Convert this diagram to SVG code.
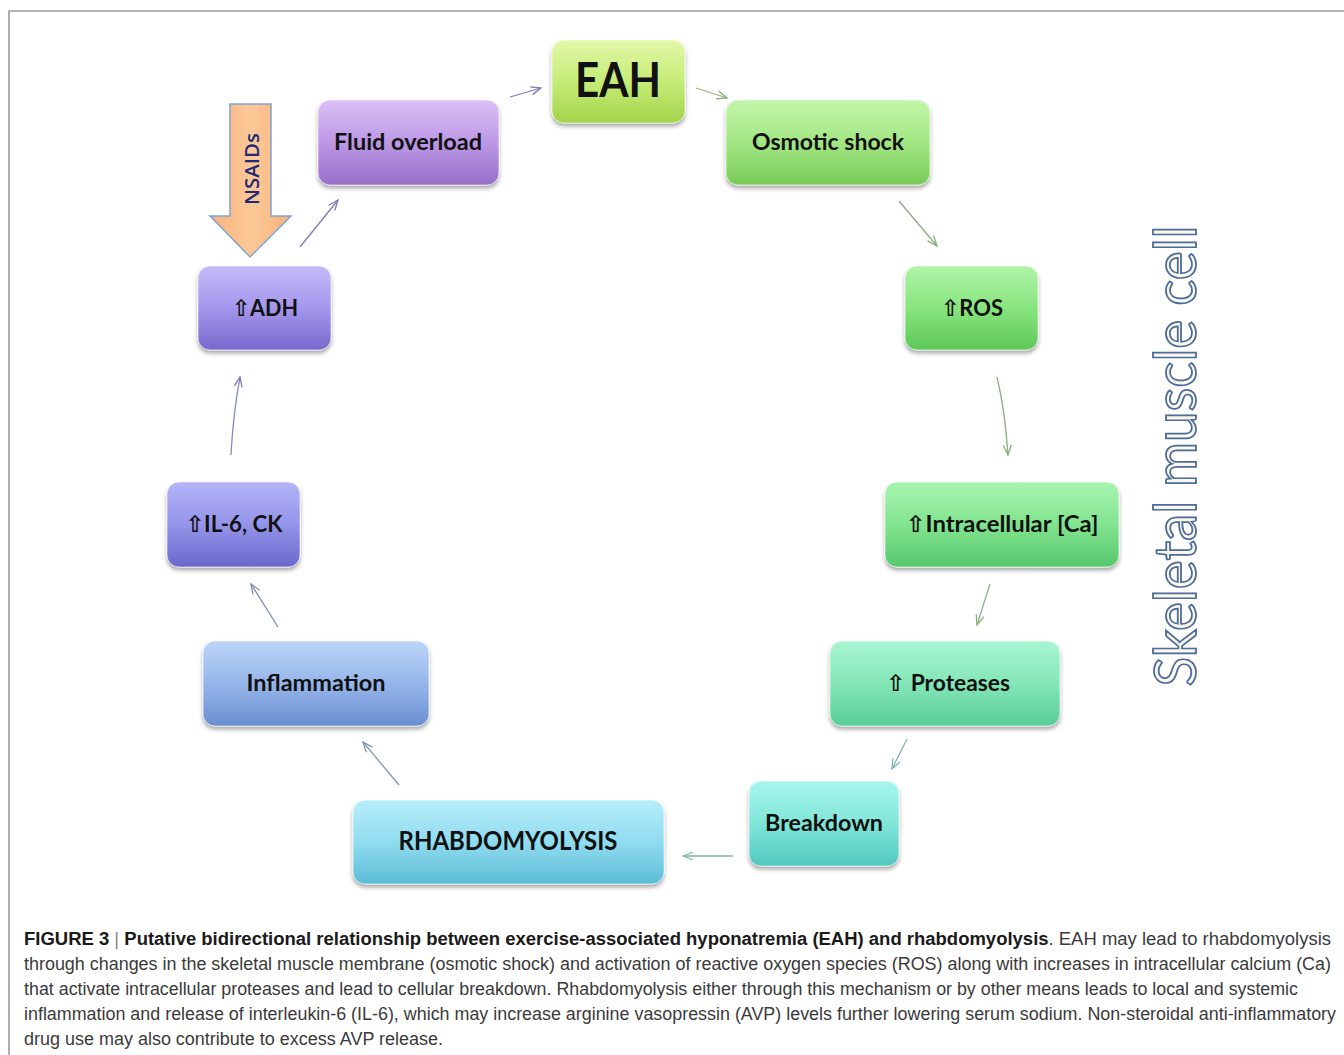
<svg xmlns="http://www.w3.org/2000/svg" width="1344" height="1055" viewBox="0 0 1344 1055">
<style>
.lbl{font-family:Lato,"DejaVu Sans",sans-serif;font-weight:bold;fill:#111;text-anchor:middle;font-size:23px}
.box{stroke:#ffffff;stroke-opacity:0.6;stroke-width:1;filter:url(#sh)}
.con{fill:none;stroke-width:1.3}
.cap{font-family:"Liberation Sans",Arial,sans-serif;font-size:17.5px;fill:#3a3a3a}
.capb{font-weight:bold;fill:#1a1a1a}
</style>
<defs>
<filter id="sh" x="-10%" y="-10%" width="120%" height="130%">
<feDropShadow dx="0" dy="3" stdDeviation="2.2" flood-color="#000" flood-opacity="0.35"/>
</filter>
<linearGradient id="gEAH" x1="0" y1="0" x2="0" y2="1"><stop offset="0" stop-color="#e2f8a8"/><stop offset="0.5" stop-color="#c6ec78"/><stop offset="1" stop-color="#a2d44a"/></linearGradient>
<linearGradient id="gFluid" x1="0" y1="0" x2="0" y2="1"><stop offset="0" stop-color="#dcc0f6"/><stop offset="0.5" stop-color="#bc98e6"/><stop offset="1" stop-color="#9670c8"/></linearGradient>
<linearGradient id="gOsm" x1="0" y1="0" x2="0" y2="1"><stop offset="0" stop-color="#c4f6aa"/><stop offset="0.5" stop-color="#a2e684"/><stop offset="1" stop-color="#78cc58"/></linearGradient>
<linearGradient id="gROS" x1="0" y1="0" x2="0" y2="1"><stop offset="0" stop-color="#b0f4a8"/><stop offset="0.5" stop-color="#88e47e"/><stop offset="1" stop-color="#5cc858"/></linearGradient>
<linearGradient id="gADH" x1="0" y1="0" x2="0" y2="1"><stop offset="0" stop-color="#c4baf8"/><stop offset="0.5" stop-color="#a496ec"/><stop offset="1" stop-color="#7a68cc"/></linearGradient>
<linearGradient id="gCa" x1="0" y1="0" x2="0" y2="1"><stop offset="0" stop-color="#a8f4b0"/><stop offset="0.5" stop-color="#82e48e"/><stop offset="1" stop-color="#56c86c"/></linearGradient>
<linearGradient id="gIL" x1="0" y1="0" x2="0" y2="1"><stop offset="0" stop-color="#b4b4f8"/><stop offset="0.5" stop-color="#9494ea"/><stop offset="1" stop-color="#6a68cc"/></linearGradient>
<linearGradient id="gProt" x1="0" y1="0" x2="0" y2="1"><stop offset="0" stop-color="#a8f6d2"/><stop offset="0.5" stop-color="#84e6b6"/><stop offset="1" stop-color="#58cc98"/></linearGradient>
<linearGradient id="gInfl" x1="0" y1="0" x2="0" y2="1"><stop offset="0" stop-color="#bcd4f8"/><stop offset="0.5" stop-color="#96b6ea"/><stop offset="1" stop-color="#6a8ed0"/></linearGradient>
<linearGradient id="gBrk" x1="0" y1="0" x2="0" y2="1"><stop offset="0" stop-color="#a8f6ec"/><stop offset="0.5" stop-color="#80e6d8"/><stop offset="1" stop-color="#50c8bc"/></linearGradient>
<linearGradient id="gRh" x1="0" y1="0" x2="0" y2="1"><stop offset="0" stop-color="#b8eefa"/><stop offset="0.5" stop-color="#90dcf0"/><stop offset="1" stop-color="#5cbcd6"/></linearGradient>
<linearGradient id="gNs" x1="0" y1="0" x2="1" y2="0"><stop offset="0" stop-color="#f6b47c"/><stop offset="0.5" stop-color="#fcc898"/><stop offset="1" stop-color="#f6b47c"/></linearGradient>
<marker id="mP" viewBox="0 0 12 10" refX="11" refY="5" markerWidth="12" markerHeight="10" markerUnits="userSpaceOnUse" orient="auto"><path d="M1,1 L11,5 L1,9" fill="none" stroke="#8478b8" stroke-width="1.3"/></marker>
<marker id="mG" viewBox="0 0 12 10" refX="11" refY="5" markerWidth="12" markerHeight="10" markerUnits="userSpaceOnUse" orient="auto"><path d="M1,1 L11,5 L1,9" fill="none" stroke="#88b07a" stroke-width="1.3"/></marker>
<marker id="mT" viewBox="0 0 12 10" refX="11" refY="5" markerWidth="12" markerHeight="10" markerUnits="userSpaceOnUse" orient="auto"><path d="M1,1 L11,5 L1,9" fill="none" stroke="#7eb4ac" stroke-width="1.3"/></marker>
<marker id="mB" viewBox="0 0 12 10" refX="11" refY="5" markerWidth="12" markerHeight="10" markerUnits="userSpaceOnUse" orient="auto"><path d="M1,1 L11,5 L1,9" fill="none" stroke="#8090b4" stroke-width="1.3"/></marker>
</defs>
<rect width="1344" height="1055" fill="#ffffff"/>
<path d="M9,1055 V11 H1344" fill="none" stroke="#9a9a9a" stroke-width="1.6"/>

<g id="connectors">
<path class="con" d="M510,97 L541,88" stroke="#8478b8" marker-end="url(#mP)"/>
<path class="con" d="M696,88 L727,98" stroke="#9ab87a" marker-end="url(#mG)"/>
<path class="con" d="M899,201 L937,246" stroke="#88b07a" marker-end="url(#mG)"/>
<path class="con" d="M997,377 Q1005,410 1008,455" stroke="#88b07a" marker-end="url(#mG)"/>
<path class="con" d="M990,584 L977,625" stroke="#84b68a" marker-end="url(#mG)"/>
<path class="con" d="M907,739 L892,769" stroke="#7eb4ac" marker-end="url(#mT)"/>
<path class="con" d="M733,856 L683,856" stroke="#7eb4ac" marker-end="url(#mT)"/>
<path class="con" d="M399,785 L363,742" stroke="#8098b4" marker-end="url(#mB)"/>
<path class="con" d="M278,627 L251,584" stroke="#8090b4" marker-end="url(#mB)"/>
<path class="con" d="M231,455 Q233,415 240,377" stroke="#8488bc" marker-end="url(#mP)"/>
<path class="con" d="M300,247 L338,200" stroke="#8478b8" marker-end="url(#mP)"/>
</g>

<g id="nsaids">
<path d="M230,104 H271 V216 H291 L250,257 L210,216 H230 Z" fill="url(#gNs)" stroke="#80a4d4" stroke-width="1.5"/>
<text transform="translate(259,169) rotate(-90)" text-anchor="middle" font-family="'Open Sans','Noto Sans',sans-serif" font-weight="600" font-size="19" fill="#1e2a78" textLength="72" lengthAdjust="spacingAndGlyphs">NSAIDs</text>
</g>

<g id="eah"><rect class="box" x="552" y="40" width="133" height="83" rx="12" fill="url(#gEAH)"/>
<text class="lbl" x="618" y="97" style="font-size:48px" textLength="86" lengthAdjust="spacingAndGlyphs">EAH</text></g>
<g id="fluid"><rect class="box" x="318" y="100" width="181" height="85" rx="12" fill="url(#gFluid)"/>
<text class="lbl" x="408" y="150" textLength="148" lengthAdjust="spacingAndGlyphs">Fluid overload</text></g>
<g id="osmotic"><rect class="box" x="726" y="100" width="204" height="85" rx="12" fill="url(#gOsm)"/>
<text class="lbl" x="828" y="150" textLength="152" lengthAdjust="spacingAndGlyphs">Osmotic  shock</text></g>
<g id="ros"><rect class="box" x="905" y="266" width="133" height="84" rx="12" fill="url(#gROS)"/>
<text class="lbl" x="972" y="316" textLength="62" lengthAdjust="spacingAndGlyphs">⇧ROS</text></g>
<g id="adh"><rect class="box" x="198" y="266" width="133" height="84" rx="12" fill="url(#gADH)"/>
<text class="lbl" x="265" y="316" textLength="66" lengthAdjust="spacingAndGlyphs">⇧ADH</text></g>
<g id="ca"><rect class="box" x="885" y="482" width="234" height="85" rx="12" fill="url(#gCa)"/>
<text class="lbl" x="1002" y="532" textLength="193" lengthAdjust="spacingAndGlyphs">⇧Intracellular [Ca]</text></g>
<g id="il6"><rect class="box" x="167" y="482" width="133" height="85" rx="12" fill="url(#gIL)"/>
<text class="lbl" x="234" y="532" textLength="97" lengthAdjust="spacingAndGlyphs">⇧IL-6, CK</text></g>
<g id="proteases"><rect class="box" x="830" y="641" width="230" height="85" rx="12" fill="url(#gProt)"/>
<text class="lbl" x="948" y="691" textLength="124" lengthAdjust="spacingAndGlyphs">⇧ Proteases</text></g>
<g id="inflammation"><rect class="box" x="203" y="641" width="226" height="85" rx="12" fill="url(#gInfl)"/>
<text class="lbl" x="316" y="691" textLength="139" lengthAdjust="spacingAndGlyphs">Inflammation</text></g>
<g id="breakdown"><rect class="box" x="749" y="781" width="150" height="85" rx="12" fill="url(#gBrk)"/>
<text class="lbl" x="824" y="831" textLength="118" lengthAdjust="spacingAndGlyphs">Breakdown</text></g>
<g id="rhabdo"><rect class="box" x="353" y="800" width="311" height="84" rx="12" fill="url(#gRh)"/>
<text class="lbl" x="508" y="850" style="font-size:26px" textLength="219" lengthAdjust="spacingAndGlyphs">RHABDOMYOLYSIS</text></g>

<g id="skeletal">
<text transform="translate(1196,456) rotate(-90)" text-anchor="middle" font-family="Lato,'Open Sans',sans-serif" font-size="58" fill="#fbf8ea" stroke="#4d6c9c" stroke-width="1.8" textLength="461" lengthAdjust="spacingAndGlyphs">Skeletal muscle cell</text>
</g>

<g id="caption">
<text class="cap" x="24" y="945" textLength="1307" lengthAdjust="spacingAndGlyphs"><tspan class="capb">FIGURE 3</tspan><tspan fill="#888"> | </tspan><tspan class="capb">Putative bidirectional relationship between exercise-associated hyponatremia (EAH) and rhabdomyolysis</tspan>. EAH may lead to rhabdomyolysis</text>
<text class="cap" x="24" y="970" textLength="1307" lengthAdjust="spacingAndGlyphs">through changes in the skeletal muscle membrane (osmotic shock) and activation of reactive oxygen species (ROS) along with increases in intracellular calcium (Ca)</text>
<text class="cap" x="24" y="995" textLength="1274" lengthAdjust="spacingAndGlyphs">that activate intracellular proteases and lead to cellular breakdown. Rhabdomyolysis either through this mechanism or by other means leads to local and systemic</text>
<text class="cap" x="24" y="1020" textLength="1312" lengthAdjust="spacingAndGlyphs">inflammation and release of interleukin-6 (IL-6), which may increase arginine vasopressin (AVP) levels further lowering serum sodium. Non-steroidal anti-inflammatory</text>
<text class="cap" x="24" y="1045" textLength="419" lengthAdjust="spacingAndGlyphs">drug use may also contribute to excess AVP release.</text>
</g>
</svg>
